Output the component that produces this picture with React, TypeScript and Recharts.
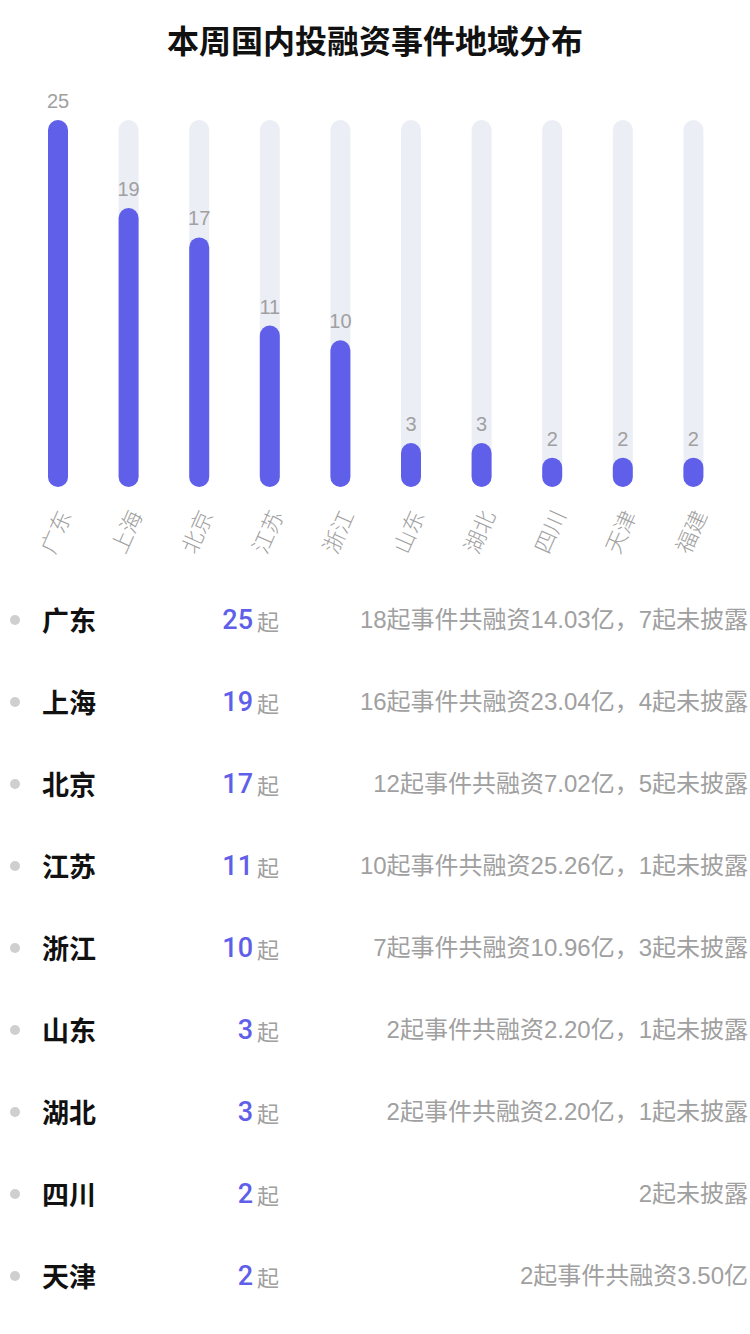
import { BarChart, Bar, XAxis, YAxis, LabelList } from "recharts";

const regions = ["广东", "上海", "北京", "江苏", "浙江", "山东", "湖北", "四川", "天津", "福建"];
const counts = [25, 19, 17, 11, 10, 3, 3, 2, 2, 2];

const listRegions = ["广东", "上海", "北京", "江苏", "浙江", "山东", "湖北", "四川", "天津"];
const listCounts = [25, 19, 17, 11, 10, 3, 3, 2, 2];
const listNotes = [
  "18起事件共融资14.03亿，7起未披露",
  "16起事件共融资23.04亿，4起未披露",
  "12起事件共融资7.02亿，5起未披露",
  "10起事件共融资25.26亿，1起未披露",
  "7起事件共融资10.96亿，3起未披露",
  "2起事件共融资2.20亿，1起未披露",
  "2起事件共融资2.20亿，1起未披露",
  "2起未披露",
  "2起事件共融资3.50亿",
];

const FONT = "'Noto Sans CJK SC', 'Noto Sans', sans-serif";
const MIXED = "'Liberation Sans', 'Noto Sans CJK SC', sans-serif";
const PURPLE = "#5f5fea";

const data = regions.map((name, i) => ({ name, value: counts[i] }));

function RotTick(props: any) {
  const { x, y, payload } = props;
  const tx = x + 14;
  const ty = y + 20;
  return (
    <text
      x={tx}
      y={ty}
      transform={`rotate(-66, ${tx}, ${ty})`}
      textAnchor="end"
      fill="#a0a0a0"
      fontSize={22}
      fontFamily={FONT}
      fontWeight={300}
    >
      {payload.value}
    </text>
  );
}

export default function App() {
  return (
    <div
      style={{
        position: "absolute",
        top: 0,
        left: 0,
        width: 750,
        height: 1334,
        background: "#fff",
        fontFamily: FONT,
        overflow: "hidden",
      }}
    >
      <div
        style={{
          position: "absolute",
          top: 16,
          left: 0,
          width: 750,
          textAlign: "center",
          fontSize: 32,
          fontWeight: 700,
          color: "#111",
        }}
      >
        本周国内投融资事件地域分布
      </div>
      <div style={{ position: "absolute", top: 0, left: 0 }}>
        <BarChart
          width={750}
          height={580}
          data={data}
          margin={{ top: 120, right: 21, left: 23, bottom: 0 }}
        >
          <XAxis
            dataKey="name"
            axisLine={false}
            tickLine={false}
            interval={0}
            height={93}
            tick={<RotTick />}
          />
          <YAxis hide domain={[0, 25]} />
          <Bar
            dataKey="value"
            fill={PURPLE}
            barSize={20}
            radius={10}
            background={{ fill: "#eceef6", radius: 10 } as any}
            isAnimationActive={false}
          >
            <LabelList
              dataKey="value"
              position="top"
              offset={12}
              fill="#a0a0a0"
              fontSize={20}
              fontFamily={MIXED}
            />
          </Bar>
        </BarChart>
      </div>
      {listRegions.map((name, i) => (
        <div
          key={name}
          style={{
            position: "absolute",
            top: 620 + i * 82 - 20,
            left: 0,
            width: 750,
            height: 40,
          }}
        >
          <div
            style={{
              position: "absolute",
              left: 10,
              top: 15,
              width: 10,
              height: 10,
              borderRadius: 5,
              background: "#cfcfcf",
            }}
          />
          <div
            style={{
              position: "absolute",
              left: 42,
              top: 0,
              lineHeight: "40px",
              fontSize: 27,
              fontWeight: 700,
              color: "#111",
            }}
          >
            {name}
          </div>
          <div
            style={{
              position: "absolute",
              right: 497,
              top: 0,
              lineHeight: "40px",
              fontSize: 27,
              fontWeight: 500,
              color: PURPLE,
              fontFamily: "Roboto, 'Liberation Sans', sans-serif",
            }}
          >
            {listCounts[i]}
          </div>
          <div
            style={{
              position: "absolute",
              left: 257,
              top: 0,
              lineHeight: "40px",
              fontSize: 22,
              color: "#a0a0a0",
            }}
          >
            起
          </div>
          <div
            style={{
              position: "absolute",
              right: 2,
              top: 0,
              lineHeight: "40px",
              fontSize: 24,
              color: "#a0a0a0",
              whiteSpace: "nowrap",
              fontFamily: MIXED,
            }}
          >
            {listNotes[i]}
          </div>
        </div>
      ))}
    </div>
  );
}
